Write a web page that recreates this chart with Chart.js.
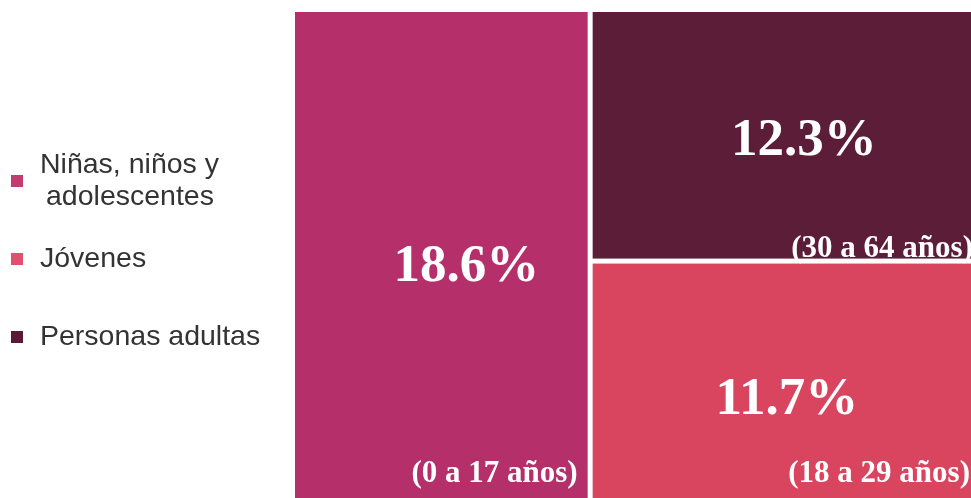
<!DOCTYPE html>
<html>
<head>
<meta charset="utf-8">
<script src="https://cdn.jsdelivr.net/npm/chart.js@4/dist/chart.umd.min.js"></script>
<style>
html,body{margin:0;padding:0;background:#fff;}
#wrap{width:971px;height:498px;position:relative;}
</style>
</head>
<body>
<div id="wrap"><canvas id="c"></canvas></div>
<script>
// data
const categories = ["Niñas, niños y adolescentes", "Jóvenes", "Personas adultas"];
const legendLines = [["Niñas, niños y", "adolescentes"], ["Jóvenes"], ["Personas adultas"]];
const values = [18.6, 11.7, 12.3];
const ageLabels = ["(0 a 17 años)", "(18 a 29 años)", "(30 a 64 años)"];
const colors = ["#b5306a", "#d9445f", "#5c1d38"];
const legendColors = ["#c23c72", "#e0506f", "#5a1a35"];

// treemap layout in data units: biggest takes a full-height column, rest stacked on the right
function layout(vals){
  const total = vals.reduce((a,b)=>a+b,0);
  const order = vals.map((v,i)=>i).sort((a,b)=>vals[b]-vals[a]);
  const first = order[0], rest = order.slice(1);
  const boxes = [];
  boxes[first] = {x0:0, x1:vals[first], y0:0, y1:1};
  const restSum = rest.reduce((a,i)=>a+vals[i],0);
  let y = 0;
  rest.forEach(i=>{
    const h = vals[i]/restSum;
    boxes[i] = {x0:vals[first], x1:total, y0:y, y1:y+h};
    y += h;
  });
  return {boxes, total};
}
const lay = layout(values);

// label placement inside each box (style only)
const valueShift = [[25, 12], [5, 20], [22, 6]];
const agePos = [{dx:-10, dy:-24}, {dx:-1, dy:-24}, {dx:2, dy:-10}];

const treemapPlugin = {
  id:"treemap",
  afterDatasetsDraw(chart){
    const ctx = chart.ctx, xs = chart.scales.x, ys = chart.scales.y;
    const gap = 2.5;
    lay.boxes.forEach((b,i)=>{
      const left = xs.getPixelForValue(b.x0) + (b.x0>0?gap:0);
      const right = xs.getPixelForValue(b.x1) - (b.x1<lay.total?gap:0);
      const top = ys.getPixelForValue(b.y0) + (b.y0>0?gap:0);
      const bottom = ys.getPixelForValue(b.y1) - (b.y1<1?gap:0);
      ctx.save();
      ctx.fillStyle = colors[i];
      ctx.fillRect(left, top, right-left, bottom-top);
      ctx.fillStyle = "#fff";
      ctx.textAlign = "center";
      ctx.textBaseline = "middle";
      ctx.font = "bold 53px 'Liberation Serif', 'Times New Roman', serif";
      ctx.fillText(values[i].toFixed(1)+"%", (left+right)/2 + valueShift[i][0], (top+bottom)/2 + valueShift[i][1]);
      ctx.textAlign = "right";
      ctx.font = "bold 31px 'Liberation Serif', 'Times New Roman', serif";
      ctx.fillText(ageLabels[i], right + agePos[i].dx, bottom + agePos[i].dy);
      ctx.restore();
    });
    // legend
    ctx.save();
    ctx.font = "28.5px 'Liberation Sans', Arial, sans-serif";
    ctx.textBaseline = "middle";
    ctx.textAlign = "left";
    const rowY = [181, 259, 337];
    legendLines.forEach((lines,i)=>{
      ctx.fillStyle = legendColors[i];
      ctx.fillRect(11, rowY[i]-6, 12, 12);
      ctx.fillStyle = "#333";
      const lh = 32;
      const y0 = rowY[i] - (lines.length-1)*lh/2;
      lines.forEach((t,k)=>ctx.fillText(t, k===0?40:46, y0 + k*lh));
    });
    ctx.restore();
  }
};

new Chart(document.getElementById("c"), {
  type:"scatter",
  data:{datasets:[{label:categories.join(", "), data:[]}]},
  options:{
    responsive:true, maintainAspectRatio:false, animation:false,
    layout:{padding:{left:295, top:12, right:0, bottom:0}},
    plugins:{legend:{display:false}, tooltip:{enabled:false}},
    scales:{
      x:{type:"linear", min:0, max:lay.total, display:false},
      y:{type:"linear", min:0, max:1, reverse:true, display:false}
    }
  },
  plugins:[treemapPlugin]
});
</script>
</body>
</html>
